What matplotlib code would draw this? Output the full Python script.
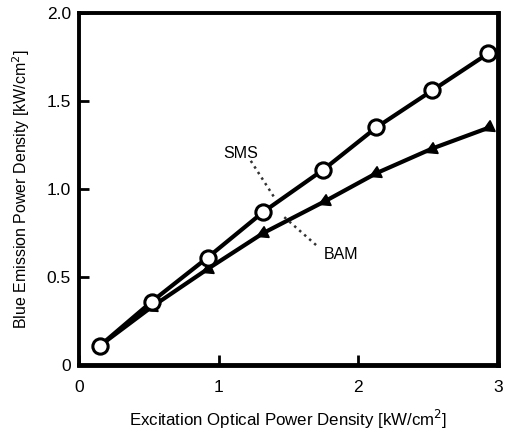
import numpy as np
import matplotlib
matplotlib.use('Agg')
import matplotlib.pyplot as plt

matplotlib.rcParams['font.family'] = ['Liberation Sans', 'DejaVu Sans']

# data
sms_x = [0.15, 0.52, 0.92, 1.32, 1.75, 2.13, 2.53, 2.93]
sms_y = [0.11, 0.36, 0.61, 0.87, 1.11, 1.35, 1.56, 1.77]
bam_x = [0.15, 0.52, 0.92, 1.32, 1.76, 2.13, 2.53, 2.94]
bam_y = [0.11, 0.33, 0.545, 0.75, 0.93, 1.09, 1.23, 1.35]

x_ticks = [0, 1, 2, 3]
y_ticks = [0, 0.5, 1.0, 1.5, 2.0]
y_ticklabels = ['0', '0.5', '1.0', '1.5', '2.0']

fig = plt.figure(figsize=(5.07, 4.34), dpi=100)
ax = fig.add_axes([0.156, 0.159, 0.826, 0.811])

ax.plot(bam_x, bam_y, '-', color='black', lw=3, zorder=2)
ax.plot(bam_x, bam_y, linestyle='none', marker=(3, 0, 115), ms=10, color='black', zorder=3)
ax.plot(sms_x, sms_y, '-o', color='black', lw=3, ms=11, mfc='white', mec='black', mew=2.2, zorder=4)

# labels with dotted leaders
ax.plot([1.23, 1.40], [1.16, 0.95], ':', color='#333333', lw=1.8)
ax.text(1.16, 1.20, 'SMS', ha='center', va='center', fontsize=11.5)
ax.plot([1.47, 1.70], [0.84, 0.68], ':', color='#333333', lw=1.8)
ax.text(1.88, 0.63, 'BAM', ha='center', va='center', fontsize=11.5)

ax.set_xlim(0, 3)
ax.set_ylim(0, 2.0)
ax.set_xticks(x_ticks)
ax.set_yticks(y_ticks)
ax.set_yticklabels(y_ticklabels)
ax.tick_params(direction='in', length=7, width=2, labelsize=12.5)
ax.tick_params(axis='x', pad=11)
ax.tick_params(axis='y', pad=6)
for side in ['left', 'top']:
  ax.spines[side].set_linewidth(2.8)
for side in ['right', 'bottom']:
  ax.spines[side].set_linewidth(3.5)

ax.set_xlabel(r'Excitation Optical Power Density [kW/cm$^2$]', fontsize=12.2, labelpad=9)
ax.set_ylabel(r'Blue Emission Power Density [kW/cm$^2$]', fontsize=11.5, labelpad=10)

fig.savefig('out.png', dpi=100)
